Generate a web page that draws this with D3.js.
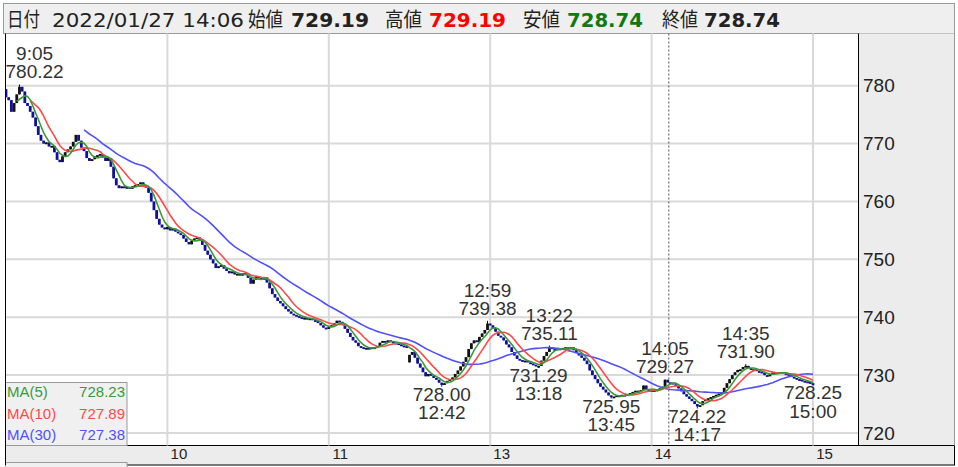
<!DOCTYPE html>
<html><head><meta charset="utf-8">
<script src="https://cdnjs.cloudflare.com/ajax/libs/d3/7.8.5/d3.min.js"></script>
<style>body{margin:0;background:#fff;}svg{display:block;}</style>
</head><body><svg id="c" width="958" height="467"></svg>
<script>
// ---- data (1-minute closes, 9:00-11:29 then 12:30-15:00) ----
const closes = [
 778.0,777.5,775.5,777.0,778.5,779.8,779.0,777.0,776.5,775.5,
 774.5,773.0,771.5,770.5,770.0,770.2,769.5,769.6,768.5,767.2,
 766.8,767.8,768.5,769.0,769.5,770.3,771.5,770.5,769.3,768.7,
 767.5,767.0,767.3,767.8,768.0,768.2,767.6,767.0,767.5,766.0,
 764.0,762.8,762.3,762.6,762.4,762.5,762.2,762.6,762.8,763.0,
 763.3,762.8,762.4,761.5,760.0,758.5,757.0,756.0,755.5,755.2,
 755.6,755.0,755.3,754.8,754.5,754.2,753.6,753.0,752.6,753.2,
 753.6,753.8,753.4,752.5,751.5,750.8,750.0,749.3,748.5,748.8,
 749.0,748.4,748.0,747.6,747.9,747.4,747.5,747.2,747.6,747.3,
 746.8,745.8,746.5,747.0,746.8,746.5,746.9,746.0,745.0,744.0,
 743.4,742.8,742.4,741.9,741.4,741.0,740.6,740.4,740.2,740.0,
 739.8,739.9,739.6,739.8,739.5,739.3,739.0,738.6,738.2,738.0,
 738.3,738.6,739.0,739.4,739.2,738.8,738.0,737.3,736.6,736.0,
 735.6,735.0,734.8,734.6,734.7,734.6,734.8,734.7,735.0,735.6,
 735.9,735.7,736.0,735.8,735.6,735.5,735.3,735.1,735.0,734.8,
 733.5,734.0,733.0,732.0,731.3,730.5,729.8,730.2,729.9,729.5,
 729.2,728.7,728.3,728.6,729.0,729.3,729.6,730.2,730.8,731.5,
 732.3,733.1,734.5,735.5,736.0,735.7,736.6,737.2,737.8,738.9,
 738.6,738.1,737.5,736.8,736.5,736.0,735.3,734.8,734.0,733.4,
 732.8,732.6,732.4,732.5,732.2,732.0,731.8,731.6,731.6,732.5,
 733.3,734.0,734.8,734.5,734.3,734.6,734.4,734.7,734.8,734.6,
 734.8,734.3,733.8,733.4,733.0,732.5,731.9,730.8,730.0,729.3,
 728.6,728.0,727.5,727.0,726.5,726.2,726.3,726.5,726.5,726.6,
 726.5,726.7,726.9,727.1,727.3,727.1,727.4,728.2,727.5,727.3,
 727.4,727.35,727.5,727.7,728.0,729.19,728.74,728.7,728.4,728.2,
 727.7,727.2,726.7,726.3,725.9,725.5,725.0,724.6,724.8,725.5,
 725.8,726.0,726.2,726.4,726.6,726.8,727.0,727.8,728.6,729.3,
 730.0,730.5,730.9,731.0,731.4,731.6,731.2,730.9,731.0,730.7,
 730.6,730.4,730.0,729.8,730.2,730.4,730.5,730.4,730.5,730.3,
 730.2,730.0,729.7,729.5,729.3,729.2,729.0,728.9,728.8,728.6,
 728.25
];
const sessionOpens = [779.4, 732.2];           // 9:00 and 12:30 opening prices
const highMarks = [
  {time:"9:05", value:780.22}, {time:"12:59", value:739.38}, {time:"13:22", value:735.11},
  {time:"14:05", value:729.27}, {time:"14:35", value:731.90}
];
const lowMarks = [
  {time:"12:42", value:728.00}, {time:"13:18", value:731.29}, {time:"13:45", value:725.95},
  {time:"14:17", value:724.22}, {time:"15:00", value:728.25}
];
const yTicks = [720,730,740,750,760,770,780];
const hourTicks = ["10:00","11:00","13:00","14:00","15:00"];
const hourLabels = ["10","11","13","14","15"];
const maPeriods = [5,10,30];
const maNames = ["MA(5)","MA(10)","MA(30)"];
const maValues = [728.23,727.89,727.38];
const cursorTime = "14:06";
const headerDate = "2022/01/27 14:06";
const headerLabels = ["始値","高値","安値","終値"];
const headerValues = [729.19,729.19,728.74,728.74];

// ---- time categories ----
const times = closes.map((_, i) => {
  const m = i < 150 ? 9*60 + i : 12*60 + 30 + (i - 150);
  return Math.floor(m/60) + ":" + String(m%60).padStart(2,"0");
});
const idx = t => times.indexOf(t);

// ---- candles ----
const opens = closes.map((c, i) => i === 0 ? sessionOpens[0] : (i === 150 ? sessionOpens[1] : closes[i-1]));
const highs = closes.map((c, i) => Math.max(c, opens[i]));
const lows = closes.map((c, i) => Math.min(c, opens[i]));
highMarks.forEach(m => { const i = idx(m.time); highs[i] = Math.max(highs[i], m.value); });
lowMarks.forEach(m => { const i = idx(m.time); lows[i] = Math.min(lows[i], m.value); });

const L = 5.5, R = 858.5, T = 33.5, B = 445.5;
const x = d3.scaleLinear().domain([0, 300]).range([6, 813]);
const y = d3.scaleLinear().domain([720, 780]).range([433, 85.7]);

const svg = d3.select("#c");
svg.append("rect").attr("width",958).attr("height",467).attr("fill","#fff");

// header
svg.append("rect").attr("x",3.5).attr("y",3.5).attr("width",951).attr("height",30)
  .attr("fill","#efefef").attr("stroke","#9a9a9a");
const hdr = [
  {t:"日付", x:7, w:33, bold:false, c:"#222"},
  {t:headerDate, x:52, w:192, bold:false, c:"#222"},
  {t:headerLabels[0], x:248, w:35, bold:false, c:"#222"},
  {t:headerValues[0].toFixed(2), x:291, w:78, bold:true, c:"#222"},
  {t:headerLabels[1], x:385, w:37, bold:false, c:"#222"},
  {t:headerValues[1].toFixed(2), x:429, w:77, bold:true, c:"#ff0000"},
  {t:headerLabels[2], x:523, w:37, bold:false, c:"#222"},
  {t:headerValues[2].toFixed(2), x:567, w:76, bold:true, c:"#107a10"},
  {t:headerLabels[3], x:662, w:36, bold:false, c:"#222"},
  {t:headerValues[3].toFixed(2), x:704, w:76, bold:true, c:"#222"}
];
svg.append("g").selectAll("text").data(hdr).join("text")
  .attr("x", d => d.x).attr("y", 27)
  .attr("font-family", "'DejaVu Sans','Noto Sans CJK JP',sans-serif")
  .attr("font-size", 20).attr("font-weight", d => d.bold ? "bold" : "normal")
  .attr("fill", d => d.c).attr("textLength", d => d.w).attr("lengthAdjust","spacingAndGlyphs")
  .text(d => d.t);

// right panel & bottom strip
svg.append("rect").attr("x",R).attr("y",T).attr("width",954.5-R).attr("height",B-T).attr("fill","#ececec");
svg.append("rect").attr("x",L).attr("y",B).attr("width",954.5-L).attr("height",19.5)
  .attr("fill","#ececec").attr("stroke","#000");
svg.append("line").attr("x1",954.5).attr("x2",954.5).attr("y1",T).attr("y2",B).attr("stroke","#999");

// grid
const grid = svg.append("g").attr("stroke","#d9d9d9").attr("stroke-width",2);
grid.selectAll(".h").data(yTicks).join("line").attr("class","h")
  .attr("x1",L).attr("x2",R).attr("y1",d=>y(d)).attr("y2",d=>y(d));
grid.selectAll(".v").data(hourTicks).join("line").attr("class","v")
  .attr("x1",d=>x(idx(d))).attr("x2",d=>x(idx(d))).attr("y1",T).attr("y2",B);

// axis labels
svg.append("g").selectAll("text").data(yTicks).join("text")
  .attr("x",863).attr("y",d=>y(d)).attr("dy","0.35em")
  .attr("font-family","'Liberation Sans',Arial,sans-serif").attr("font-size",19).attr("fill","#222")
  .text(d=>d);
svg.append("g").selectAll("text").data(hourTicks).join("text")
  .attr("x",d=>x(idx(d))+11.5).attr("y",459).attr("text-anchor","middle")
  .attr("font-family","'Liberation Sans',Arial,sans-serif").attr("font-size",15).attr("fill","#222")
  .text((d,i)=>hourLabels[i]);

// clip
svg.append("clipPath").attr("id","pc").append("rect").attr("x",L).attr("y",T).attr("width",R-L).attr("height",B-T);
const plot = svg.append("g").attr("clip-path","url(#pc)");

// cursor
plot.append("line").attr("x1",x(idx(cursorTime))+1).attr("x2",x(idx(cursorTime))+1).attr("y1",T).attr("y2",B)
  .attr("stroke","#777").attr("stroke-dasharray","2,2").attr("stroke-width",1.3);

// candles
const cg = plot.append("g");
closes.forEach((c, i) => {
  const up = c >= opens[i];
  const col = up ? "#111" : "#10109a";
  cg.append("line").attr("x1",x(i)).attr("x2",x(i)).attr("y1",y(highs[i])).attr("y2",y(lows[i]))
    .attr("stroke",col).attr("stroke-width",1);
  const y0 = y(Math.max(c, opens[i])), y1 = y(Math.min(c, opens[i]));
  cg.append("rect").attr("x",x(i)-1.4).attr("width",2.8).attr("y",y0).attr("height",Math.max(1.8,y1-y0))
    .attr("fill",col);
});

// moving averages
const maColors = ["#3a9a3a","#ff4a4a","#5050ff"];
[2,1,0].forEach(k => {
  const n = maPeriods[k];
  const pts = closes.map((c,i) => i >= n-1 ? [i, d3.mean(closes.slice(i-n+1, i+1))] : null).filter(Boolean);
  plot.append("path").datum(pts)
    .attr("d", d3.line().x(d=>x(d[0])).y(d=>y(d[1])))
    .attr("fill","none").attr("stroke",maColors[k]).attr("stroke-width",1.6);
});

// annotations
const lab = svg.append("g").attr("font-family","'Liberation Sans',Arial,sans-serif")
  .attr("font-size",19).attr("fill","#333");
function block(cx, lines, baselines) {
  const g = lab.append("g");
  const ts = lines.map((s, k) => g.append("text").attr("y", baselines[k]).attr("text-anchor","middle").text(s));
  const w = d3.max(ts, t => t.node().getComputedTextLength());
  let c = cx;
  if (c - w/2 < L) c = L + w/2;
  if (c + w/2 > R) c = R - w/2;
  ts.forEach(t => t.attr("x", c));
}
highMarks.forEach(m => {
  const yy = y(m.value);
  block(x(idx(m.time)), [m.time, m.value.toFixed(2)], [yy - 24, yy - 6]);
});
lowMarks.forEach(m => {
  const yy = y(m.value);
  block(x(idx(m.time)), [m.value.toFixed(2), m.time], [yy + 14, yy + 32.5]);
});

// legend
const lg = svg.append("g");
lg.append("rect").attr("x",5.5).attr("y",382.5).attr("width",121.5).attr("height",63)
  .attr("fill","#f0f0f0").attr("stroke","#999");
lg.append("rect").attr("x",5.5).attr("y",462.5).attr("width",121.5).attr("height",10)
  .attr("fill","#f0f0f0").attr("stroke","#999");
maNames.forEach((nm, k) => {
  lg.append("text").attr("x",7).attr("y",397 + k*21.5).attr("font-family","'Liberation Sans',Arial,sans-serif")
    .attr("font-size",15).attr("fill",maColors[k]).text(nm);
  lg.append("text").attr("x",125).attr("y",397 + k*21.5).attr("text-anchor","end")
    .attr("font-family","'Liberation Sans',Arial,sans-serif")
    .attr("font-size",15).attr("fill",maColors[k]).text(maValues[k].toFixed(2));
});

// frame
svg.append("line").attr("x1",L).attr("x2",L).attr("y1",T).attr("y2",B+19.5).attr("stroke","#000");
svg.append("line").attr("x1",R).attr("x2",R).attr("y1",T).attr("y2",B).attr("stroke","#000");
</script></body></html>
